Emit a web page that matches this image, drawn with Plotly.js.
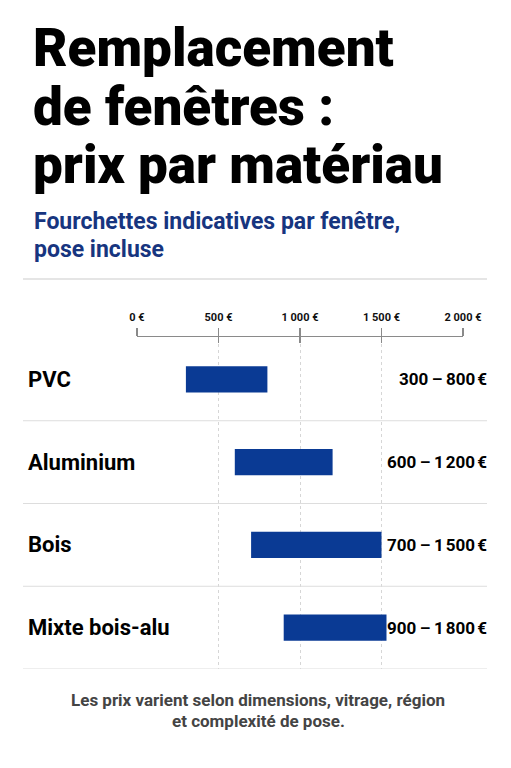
<!DOCTYPE html>
<html>
<head>
<meta charset="utf-8">
<script src="https://cdn.plot.ly/plotly-3.0.1.min.js"></script>
<style>html,body{margin:0;padding:0;background:#fff;}#chart{width:511px;height:768px;}</style>
</head>
<body>
<div id="chart"></div>
<script>
const categories = ["PVC", "Aluminium", "Bois", "Mixte bois-alu"];
const lowPrices = [300, 600, 700, 900];
const highPrices = [800, 1200, 1500, 1800];
const tickValues = [0, 500, 1000, 1500, 2000];
const tickLabels = ["0 €", "500 €", "1 000 €", "1 500 €", "2 000 €"];
const titleLines = ["Remplacement", "de fenêtres :", "prix par matériau"];
const subtitleLines = ["Fourchettes indicatives par fenêtre,", "pose incluse"];
const noteLines = ["Les prix varient selon dimensions, vitrage, région", "et complexité de pose."];

const W = 511, H = 768;
const px = v => v / W;
const py = v => 1 - v / H;
const FONT = "Roboto, 'Liberation Sans', sans-serif";
const BLUE = "#0a3a94";

function fmt(n) {
  const s = String(n);
  return s.length > 3 ? s.slice(0, s.length - 3) + "\u202f" + s.slice(-3) : s;
}

const trace = {
  type: "bar",
  orientation: "h",
  y: categories,
  base: lowPrices,
  x: highPrices.map((h, i) => h - lowPrices[i]),
  marker: { color: BLUE },
  width: 0.32,
  xaxis: "x",
  yaxis: "y",
  hoverinfo: "skip"
};

const annotations = [];
const titleY = [48, 107, 165];
titleLines.forEach((t, i) => annotations.push({
  xref: "paper", yref: "paper", x: px(31), y: py(titleY[i]), xanchor: "left", yanchor: "middle",
  text: t, showarrow: false, font: { family: FONT, size: 53, color: "#000", weight: 900 }
}));
const subY = [221, 249];
subtitleLines.forEach((t, i) => annotations.push({
  xref: "paper", yref: "paper", x: px(32), y: py(subY[i]), xanchor: "left", yanchor: "middle",
  text: t, showarrow: false, font: { family: FONT, size: 23, color: "#17357f", weight: 700 }
}));
categories.forEach((c, i) => {
  annotations.push({
    xref: "paper", yref: "y", x: px(26), y: c, xanchor: "left", yanchor: "middle",
    text: c, showarrow: false, font: { family: FONT, size: 22, color: "#000", weight: 700 }
  });
  annotations.push({
    xref: "paper", yref: "y", x: px(488), y: c, xanchor: "right", yanchor: "middle",
    text: fmt(lowPrices[i]) + "\u2009–\u2009" + fmt(highPrices[i]) + "\u202f€", showarrow: false,
    bgcolor: "#ffffff", borderpad: 0, height: 30,
    font: { family: FONT, size: 17, color: "#000", weight: 700 }
  });
});
const noteY = [700, 721];
noteLines.forEach((t, i) => annotations.push({
  xref: "paper", yref: "paper", x: px(258), y: py(noteY[i]), xanchor: "center", yanchor: "middle",
  text: t, showarrow: false, font: { family: FONT, size: 17, color: "#444", weight: 700 }
}));

const shapes = [];
shapes.push({ type: "line", xref: "paper", yref: "paper", x0: px(23), x1: px(487), y0: py(279), y1: py(279), line: { color: "#cccccc", width: 1.2 } });
for (let i = 0; i < categories.length; i++) {
  shapes.push({ type: "line", xref: "paper", yref: "y", x0: px(23), x1: px(487), y0: i + 0.5, y1: i + 0.5, line: { color: "#dddddd", width: 1.2 } });
}

const domX = [px(137), px(463)];
const axisPos = py(336);
const layout = {
  width: W, height: H,
  margin: { l: 0, r: 0, t: 0, b: 0 },
  paper_bgcolor: "#fff", plot_bgcolor: "#fff",
  showlegend: false,
  font: { family: FONT },
  xaxis: {
    domain: domX, range: [0, 2000], anchor: "y",
    tickvals: [500, 1000, 1500], showticklabels: false, ticks: "",
    showgrid: true, gridcolor: "#d6d6d6", griddash: "dot", gridwidth: 1,
    zeroline: false, showline: false, fixedrange: true
  },
  xaxis2: {
    domain: domX, range: [0, 2000], overlaying: "x", side: "top", anchor: "free", position: axisPos,
    tickvals: tickValues, ticktext: tickLabels, ticks: "outside", ticklen: 8, tickwidth: 1.3, tickcolor: "#8a8a8a",
    showline: true, linecolor: "#8a8a8a", linewidth: 1.3, showgrid: false, zeroline: false,
    tickfont: { family: FONT, size: 11, color: "#111", weight: 700 }, ticklabelstandoff: 3
  },
  xaxis3: {
    domain: domX, range: [0, 2000], overlaying: "x", side: "top", anchor: "free", position: axisPos,
    tickvals: tickValues, showticklabels: false, ticks: "inside", ticklen: 6, tickwidth: 1.3, tickcolor: "#8a8a8a",
    showline: false, showgrid: false, zeroline: false
  },
  yaxis: {
    domain: [py(669), py(338)], type: "category", categoryorder: "array", categoryarray: categories,
    range: [3.5, -0.5], showticklabels: false, ticks: "", showgrid: false, zeroline: false, showline: false, fixedrange: true
  },
  annotations: annotations,
  shapes: shapes
};

const dummy2 = { type: "scatter", x: [0], y: [categories[0]], xaxis: "x2", yaxis: "y", mode: "markers", marker: { opacity: 0 }, hoverinfo: "skip" };
const dummy3 = { type: "scatter", x: [0], y: [categories[0]], xaxis: "x3", yaxis: "y", mode: "markers", marker: { opacity: 0 }, hoverinfo: "skip" };

Plotly.newPlot("chart", [trace, dummy2, dummy3], layout, { displayModeBar: false, staticPlot: true });
</script>
</body>
</html>
